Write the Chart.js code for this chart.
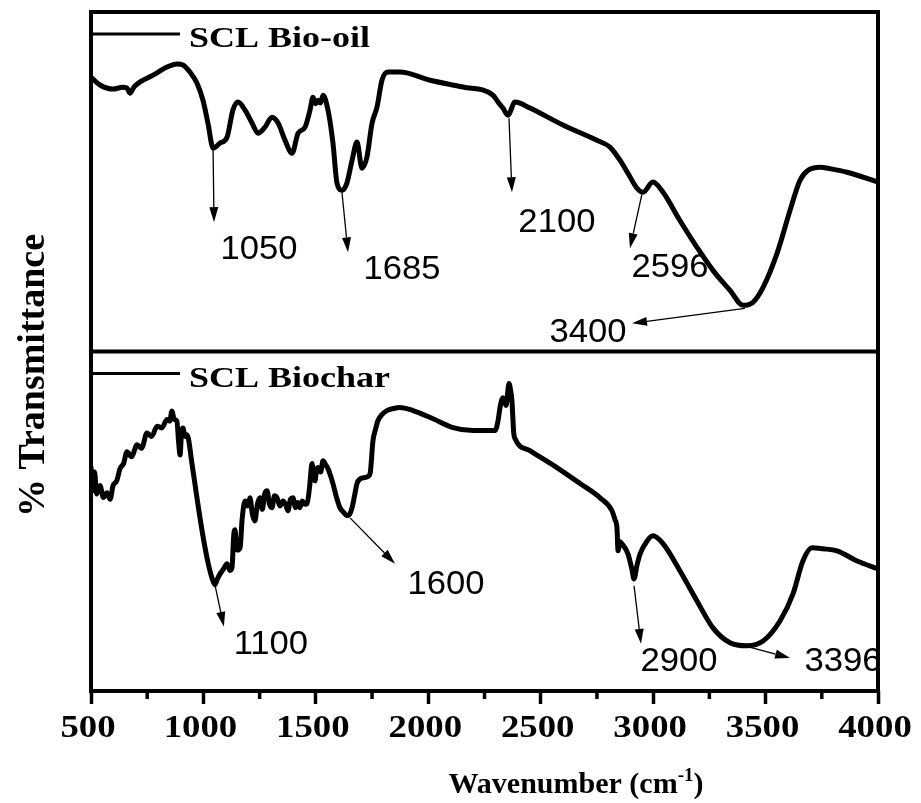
<!DOCTYPE html>
<html>
<head>
<meta charset="utf-8">
<title>FTIR spectra of SCL bio-oil and biochar</title>
<script src="https://cdn.jsdelivr.net/npm/chart.js@4.4.1/dist/chart.umd.min.js"></script>
<style>
  html, body { margin: 0; padding: 0; background: #ffffff; }
  canvas { display: block; }
</style>
</head>
<body>
<canvas id="ftir" width="921" height="803"></canvas>
<script>
// ---- Spectra (wavenumber in cm^-1, transmittance in arbitrary units per panel) ----
const bioOilWavenumber = [
  500, 540, 598, 640, 660, 673, 691, 718, 776, 838, 882, 909, 940, 971, 998, 1020, 1043,
  1074, 1105, 1131, 1154, 1185, 1216, 1243, 1274, 1305, 1332, 1363, 1394, 1421, 1452,
  1474, 1487, 1500, 1510, 1521, 1532, 1554, 1576, 1594, 1616, 1638, 1661, 1683, 1705,
  1727, 1750, 1772, 1794, 1821, 1874, 2008, 2154, 2288, 2310, 2332, 2354, 2386, 2452,
  2599, 2750, 2808, 2853, 2888, 2928, 2955, 2999, 3044, 3119, 3195, 3266, 3342, 3400,
  3444, 3489, 3551, 3609, 3653, 3689, 3742, 3790, 3862, 4000
];
const bioOilTransmittance = [
  80.8, 78.5, 77.3, 77.8, 77.6, 76.1, 77.9, 79.4, 81.4, 83.8, 84.7, 84.4, 82.3, 79.1, 74.0, 67.3, 59.9,
  61.4, 63.1, 71.1, 73.5, 71.1, 67.3, 64.3, 66.1, 69.0, 67.3, 62.2, 58.4, 64.3, 66.1,
  71.1, 74.9, 73.0, 74.0, 73.2, 75.5, 71.1, 61.4, 49.6, 47.5, 49.6, 56.3, 61.7, 54.0,
  57.2, 67.3, 72.0, 79.9, 82.3, 82.3, 79.9, 77.9, 75.5, 73.5, 71.7, 69.6, 73.5, 71.7,
  66.7, 62.2, 60.2, 56.3, 52.5, 48.1, 46.9, 49.9, 46.9, 38.6, 30.7, 23.9, 18.0, 13.6,
  14.5, 18.9, 28.9, 41.6, 50.4, 53.4, 54.3, 53.8, 52.8, 49.9
];

const biocharWavenumber = [
  500, 508, 516, 525, 540, 555, 571, 585, 598, 615, 629, 645, 660, 680, 705, 725, 749,
  770, 794, 815, 838, 850, 860, 870, 882, 890, 896, 903, 909, 918, 927, 949, 971, 994,
  1016, 1038, 1051, 1062, 1074, 1090, 1105, 1118, 1127, 1135, 1140, 1150, 1163, 1172,
  1185, 1196, 1207, 1218, 1229, 1240, 1252, 1262, 1272, 1283, 1294, 1305, 1316, 1327,
  1340, 1354, 1365, 1376, 1387, 1398, 1410, 1420, 1429, 1440, 1451, 1461, 1472, 1483,
  1490, 1496, 1503, 1510, 1521, 1532, 1545, 1554, 1565, 1576, 1592, 1607, 1625, 1638,
  1650, 1661, 1672, 1683, 1697, 1710, 1725, 1741, 1754, 1765, 1776, 1795, 1816, 1845,
  1874, 1932, 2021, 2110, 2199, 2297, 2310, 2319, 2332, 2346, 2359, 2365, 2372, 2380,
  2386, 2452, 2572, 2675, 2764, 2817, 2830, 2839, 2844, 2852, 2861, 2888, 2905, 2915,
  2928, 2942, 2973, 2999, 3044, 3119, 3195, 3266, 3342, 3417, 3489, 3564, 3622, 3666,
  3706, 3755, 3818, 3907, 4000
];
const biocharTransmittance = [
  66.0, 59.0, 64.5, 58.0, 60.5, 57.0, 58.4, 56.5, 60.5, 62.0, 65.5, 67.0, 70.5, 69.0, 72.5, 71.5, 76.0,
  75.0, 78.0, 77.5, 80.0, 79.5, 82.5, 80.0, 79.5, 73.0, 69.5, 76.5, 77.5, 75.0, 75.5, 67.0, 57.0, 47.2,
  39.2, 33.3, 31.3, 33.0, 34.5, 36.0, 37.5, 35.5, 36.3, 46.0, 47.5, 41.5, 42.2, 50.5,
  56.0, 54.5, 56.9, 52.0, 50.1, 55.0, 56.9, 53.5, 58.0, 59.0, 55.0, 54.0, 57.5, 56.9,
  54.5, 56.0, 55.0, 53.1, 56.5, 56.9, 54.0, 55.5, 54.0, 56.0, 55.0, 55.2, 60.0, 67.0,
  63.0, 61.9, 65.0, 65.8, 64.5, 67.8, 66.5, 65.5, 63.5, 61.1, 57.0, 54.0, 52.5, 51.6,
  52.0, 54.0, 57.5, 61.1, 62.5, 62.8, 63.0, 64.0, 73.7, 77.0, 79.6, 81.5, 82.6, 83.2,
  83.5, 82.6, 80.2, 77.6, 76.7, 76.7, 79.5, 83.5, 86.4, 84.1, 90.6, 89.0, 85.5, 76.0,
  74.3, 70.8, 65.8, 61.1, 56.9, 53.1, 50.5, 48.1, 41.3, 44.0, 43.4, 40.4, 36.0, 33.0,
  37.0, 40.4, 44.2, 45.7, 43.4, 35.4, 26.5, 18.6, 14.2, 13.3, 14.7, 20.6, 28.6, 38.3,
  42.2, 41.9, 41.3, 38.3, 36.0
];

const wavenumberTicks = [500, 1000, 1500, 2000, 2500, 3000, 3500, 4000];
const seriesNames = ['SCL Bio-oil', 'SCL Biochar'];
const bioOilPeakLabels = ['1050', '1685', '2100', '2596', '3400'];
const biocharPeakLabels = ['1100', '1600', '2900', '3396'];

// ---- Arrow / label placement, in axis units: [arrowFromX, arrowFromY, arrowToX, arrowToY, labelX, labelBaselineY] ----
const bioOilCallouts = [
  [1043, 59.3, 1047, 38.1, 1247, 27.1],
  [1616, 46.9, 1643, 29.2, 1883, 21.5],
  [2359, 68.7, 2372, 46.9, 2572, 35.1],
  [2950, 46.3, 2897, 30.4, 3075, 21.8],
  [3408, 12.7, 2906, 8.3, 2710, 2.7]
];
const biocharCallouts = [
  [1051, 31.3, 1091, 18.9, 1300, 10.9],
  [1652, 51.0, 1852, 37.5, 2079, 28.6],
  [2915, 31.0, 2946, 13.9, 3115, 5.9],
  [3408, 13.3, 3609, 9.7, 3844, 5.9]
];

const SERIF = '"Liberation Serif", "Times New Roman", Times, serif';
const SANS = '"Liberation Sans", Arial, Helvetica, sans-serif';

function toPoints(xs, ys) {
  return xs.map((x, i) => ({ x: x, y: ys[i] }));
}

// Text drawn with an optional horizontal stretch factor.
function drawText(ctx, text, x, y, font, sx, align) {
  ctx.save();
  ctx.font = font;
  const w = ctx.measureText(text).width * sx;
  const left = align === 'center' ? x - w / 2 : (align === 'right' ? x - w : x);
  ctx.translate(left, y);
  ctx.scale(sx, 1);
  ctx.textAlign = 'left';
  ctx.textBaseline = 'alphabetic';
  ctx.fillStyle = '#000';
  ctx.fillText(text, 0, 0);
  ctx.restore();
  return w;
}

function drawArrow(ctx, x1, y1, x2, y2) {
  const ang = Math.atan2(y2 - y1, x2 - x1);
  const len = 15, hw = 4.5;
  const bx = x2 - len * Math.cos(ang), by = y2 - len * Math.sin(ang);
  ctx.save();
  ctx.strokeStyle = '#000';
  ctx.fillStyle = '#000';
  ctx.lineWidth = 1.3;
  ctx.beginPath();
  ctx.moveTo(x1, y1);
  ctx.lineTo(bx, by);
  ctx.stroke();
  ctx.beginPath();
  ctx.moveTo(x2, y2);
  ctx.lineTo(bx - hw * Math.sin(ang), by + hw * Math.cos(ang));
  ctx.lineTo(bx + hw * Math.sin(ang), by - hw * Math.cos(ang));
  ctx.closePath();
  ctx.fill();
  ctx.restore();
}

const decorPlugin = {
  id: 'ftirDecor',
  beforeDraw(chart) {
    const ctx = chart.ctx;
    ctx.save();
    ctx.fillStyle = '#ffffff';
    ctx.fillRect(0, 0, chart.width, chart.height);
    ctx.restore();
  },
  afterDatasetsDraw(chart) {
    const ctx = chart.ctx;
    const xs = chart.scales.x;
    const panels = [
      { scale: chart.scales.yOil, labels: bioOilPeakLabels, callouts: bioOilCallouts, name: seriesNames[0] },
      { scale: chart.scales.yChar, labels: biocharPeakLabels, callouts: biocharCallouts, name: seriesNames[1] }
    ];

    // peak callouts
    panels.forEach(p => {
      p.callouts.forEach((c, i) => {
        drawArrow(ctx,
          xs.getPixelForValue(c[0]), p.scale.getPixelForValue(c[1]),
          xs.getPixelForValue(c[2]), p.scale.getPixelForValue(c[3]));
        drawText(ctx, p.labels[i],
          xs.getPixelForValue(c[4]), p.scale.getPixelForValue(c[5]),
          '33px ' + SANS, 1.05, 'center');
      });
    });

    // frame and panel divider
    const area = chart.chartArea;
    ctx.save();
    ctx.strokeStyle = '#000';
    ctx.lineWidth = 4;
    ctx.strokeRect(area.left, area.top, area.right - area.left, area.bottom - area.top);
    const divY = chart.scales.yOil.bottom;
    ctx.beginPath();
    ctx.moveTo(area.left, divY);
    ctx.lineTo(area.right, divY);
    ctx.stroke();
    ctx.restore();

    // in-panel series keys
    panels.forEach(p => {
      const top = p.scale.top;
      ctx.save();
      ctx.strokeStyle = '#000';
      ctx.lineWidth = 3;
      ctx.beginPath();
      ctx.moveTo(area.left, top + 22);
      ctx.lineTo(area.left + 89, top + 22);
      ctx.stroke();
      ctx.restore();
      drawText(ctx, p.name, area.left + 98, top + 35, 'bold 30px ' + SERIF, 1.2, 'left');
    });

    // minor ticks between the labelled ones
    ctx.save();
    ctx.strokeStyle = '#000';
    ctx.lineWidth = 3.5;
    xs.ticks.forEach(t => {
      if (t.value % 500 !== 0) {
        const px = xs.getPixelForValue(t.value);
        ctx.beginPath();
        ctx.moveTo(px, area.bottom);
        ctx.lineTo(px, area.bottom + 8);
        ctx.stroke();
      }
    });
    ctx.restore();

    // tick labels
    wavenumberTicks.forEach(v => {
      drawText(ctx, String(v), xs.getPixelForValue(v) - 3, area.bottom + 46,
        'bold 32px ' + SERIF, 1.15, 'center');
    });

    // x-axis title with superscript
    ctx.save();
    const mainFont = 'bold 30px ' + SERIF;
    const supFont = 'bold 19px ' + SERIF;
    ctx.font = mainFont;
    const wMain = ctx.measureText('Wavenumber (cm').width;
    const wClose = ctx.measureText(')').width;
    ctx.font = supFont;
    const wSup = ctx.measureText('-1').width;
    ctx.restore();
    const total = wMain + wSup + wClose;
    let tx = 576 - total / 2;
    const ty = 793;
    drawText(ctx, 'Wavenumber (cm', tx, ty, mainFont, 1, 'left');
    tx += wMain;
    drawText(ctx, '-1', tx, ty - 12, supFont, 1, 'left');
    tx += wSup;
    drawText(ctx, ')', tx, ty, mainFont, 1, 'left');

    // y-axis title
    ctx.save();
    ctx.translate(44, (area.top + area.bottom) / 2 + 24);
    ctx.rotate(-Math.PI / 2);
    drawText(ctx, '% Transmittance', 0, 0, 'bold 38px ' + SERIF, 1, 'center');
    ctx.restore();
  }
};

const lineStyle = {
  borderColor: '#000000',
  borderWidth: 5,
  pointRadius: 0,
  fill: false,
  cubicInterpolationMode: 'monotone',
  borderJoinStyle: 'round',
  borderCapStyle: 'round'
};

const hiddenPanelAxis = {
  type: 'linear',
  min: 0,
  max: 100,
  position: 'left',
  stack: 'panels',
  stackWeight: 1,
  offset: false,
  ticks: { display: false },
  grid: { display: false },
  border: { display: false },
  afterFit: s => { s.width = 0; }
};

new Chart(document.getElementById('ftir'), {
  type: 'line',
  data: {
    datasets: [
      Object.assign({ label: seriesNames[0], yAxisID: 'yOil',
        data: toPoints(bioOilWavenumber, bioOilTransmittance) }, lineStyle),
      Object.assign({ label: seriesNames[1], yAxisID: 'yChar',
        data: toPoints(biocharWavenumber, biocharTransmittance) }, lineStyle)
    ]
  },
  options: {
    responsive: false,
    animation: false,
    devicePixelRatio: 1,
    layout: { padding: { left: 91, right: 43, top: 12, bottom: 0 } },
    plugins: { legend: { display: false }, tooltip: { enabled: false } },
    scales: {
      x: {
        type: 'linear',
        min: 500,
        max: 4000,
        position: 'bottom',
        ticks: { stepSize: 250, display: false },
        grid: {
          display: true,
          drawOnChartArea: false,
          drawTicks: true,
          tickLength: 13,
          tickWidth: 3.5,
          tickColor: c => (c.tick && c.tick.value % 500 === 0) ? '#000000' : 'rgba(0,0,0,0)'
        },
        border: { display: false },
        afterFit: s => { s.height = 112; }
      },
      // stacked panels: the later-listed axis is placed on top
      yChar: Object.assign({}, hiddenPanelAxis),
      yOil: Object.assign({}, hiddenPanelAxis)
    }
  },
  plugins: [decorPlugin]
});
</script>
</body>
</html>
